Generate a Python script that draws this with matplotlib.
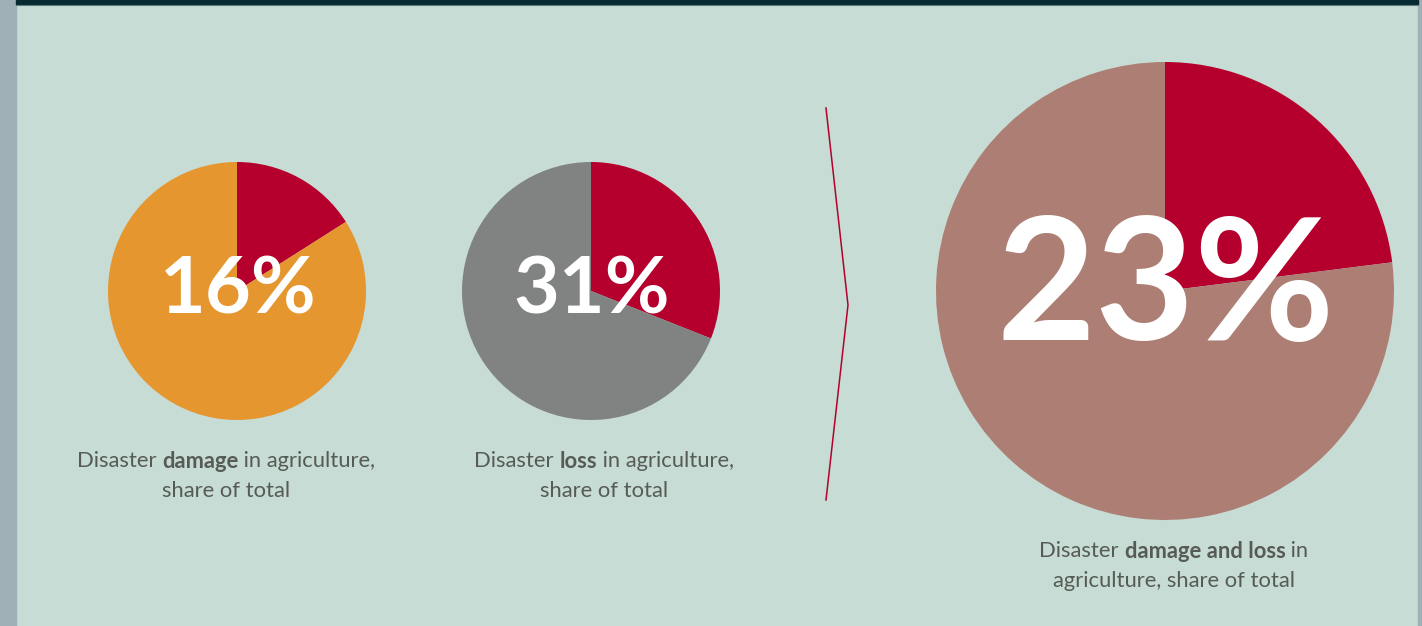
import matplotlib.pyplot as plt
from matplotlib.patches import Rectangle

# ========== data ==========
shares = [16, 31, 23]
other_colors = ["#e5962f", "#808381", "#ad7e73"]
share_color = "#b5002d"
caption_lines = [
    [[("Disaster ", "normal"), ("damage", "bold"), (" in agriculture,", "normal")],
     [("share of total", "normal")]],
    [[("Disaster ", "normal"), ("loss", "bold"), (" in agriculture,", "normal")],
     [("share of total", "normal")]],
    [[("Disaster ", "normal"), ("damage and loss", "bold"), (" in", "normal")],
     [("agriculture, share of total", "normal")]],
]

W, H = 1422, 626
bg = "#c7dcd4"
text_col = "#575b56"

fig = plt.figure(figsize=(W / 100, H / 100), dpi=100)
fig.patch.set_facecolor(bg)
ax = fig.add_axes([0, 0, 1, 1])
ax.set_facecolor(bg)

# pie layout (pixel coords, y measured from top)
centers = [(237, 291), (591, 291), (1165, 291)]
radii = [129, 129, 229]
pct_sizes = [57, 57, 123]
caption_pos = [(226, 461), (604, 461), (1174, 551)]

for i in range(3):
    cx, cy = centers[i]
    ax.pie([shares[i], 100 - shares[i]], colors=[share_color, other_colors[i]],
           startangle=90, counterclock=False, center=(cx, H - cy), radius=radii[i],
           frame=True, wedgeprops=dict(linewidth=0))
    ax.text(cx + 1, H - cy, f"{shares[i]}%", color="white", fontsize=pct_sizes[i],
            fontweight="bold", family="Lato", ha="center", va="center")

ax.set_xlim(0, W)
ax.set_ylim(0, H)
ax.set_aspect("auto")
ax.axis("off")

# side strips and top bar
ax.add_patch(Rectangle((0, 0), 16, H, color="#9fb0b6", zorder=5))
ax.add_patch(Rectangle((1418, 0), 4, H, color="#9fb0b6", zorder=5))
ax.add_patch(Rectangle((16, H - 4), 1402, 4, color="#062a30", zorder=5))
ax.plot([16, 1418], [H - 4.5, H - 4.5], color="#5e7a7a", lw=0.8, zorder=5)

# chevron
ax.plot([826, 848, 826], [H - 108, H - 305, H - 500], color=share_color, lw=1.1)

# captions with mixed weights
fig.canvas.draw()
renderer = fig.canvas.get_renderer()
for (px, py), lines in zip(caption_pos, caption_lines):
    for li, parts in enumerate(lines):
        y = H - (py + li * 30)
        texts = []
        for s, w in parts:
            t = ax.text(0, y, s, fontsize=15.8, fontweight=w, family="Lato",
                        color=text_col, ha="left", va="center")
            texts.append(t)
        widths = [t.get_window_extent(renderer).width for t in texts]
        x = px - sum(widths) / 2
        for t, wd in zip(texts, widths):
            t.set_x(x)
            x += wd

fig.savefig("out.png", dpi=100, facecolor=bg)
